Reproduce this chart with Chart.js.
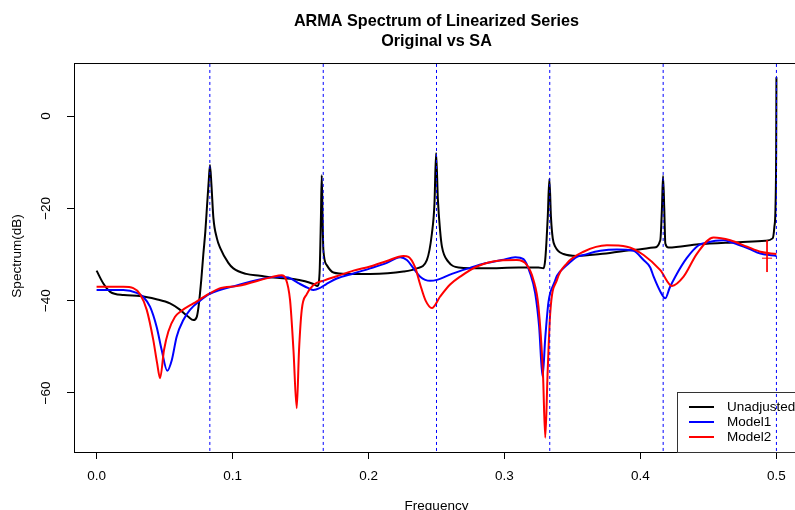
<!DOCTYPE html>
<html>
<head>
<meta charset="utf-8">
<script src="https://cdn.jsdelivr.net/npm/chart.js@4.4.1/dist/chart.umd.min.js"></script>
<style>
  html, body { margin: 0; padding: 0; background: #fff; overflow: hidden; }
  #wrap { width: 795px; height: 510px; overflow: hidden; position: relative; }
  #wrap canvas { position: absolute; left: 0; top: 0; }
</style>
</head>
<body>
<div id="wrap"><canvas id="spec" width="799" height="520"></canvas></div>
<script>
// Spectrum readings (frequency, dB)
const unadjFreq = [0, 0.005, 0.010, 0.020, 0.032, 0.044, 0.054, 0.061, 0.0675, 0.0712, 0.0737, 0.0750, 0.0770, 0.0785, 0.0800, 0.0812, 0.0825, 0.0834,
  0.0845, 0.0859, 0.0885, 0.0908, 0.0969, 0.1006, 0.1100, 0.1202, 0.1300, 0.1448, 0.1533, 0.1595, 0.1625, 0.1640, 0.1650, 0.1656, 0.1662, 0.1668,
  0.1693, 0.1742, 0.184, 0.2012, 0.2257, 0.2355, 0.2429, 0.2466, 0.2485, 0.2497, 0.2510, 0.2527, 0.254, 0.2588, 0.2662, 0.2858, 0.3103, 0.325,
  0.3287, 0.3300, 0.3318, 0.3330, 0.3342, 0.3355, 0.3373, 0.3434, 0.3533, 0.3704, 0.3949, 0.4097, 0.4146, 0.4158, 0.4166, 0.4175, 0.4183, 0.4207,
  0.4428, 0.4673, 0.4918, 0.4972, 0.4985, 0.4993, 0.4998, 0.5];
const unadjSpec = [-33.5, -36.3, -38.1, -38.8, -39.0, -39.7, -40.6, -41.9, -43.5, -44.2, -43.5, -41.3, -35.5, -30, -25, -19.6, -14, -10.6,
  -15, -22, -26.5, -28.5, -31.8, -33.0, -34.2, -34.6, -35.0, -35.3, -35.8, -36.4, -36.8, -34, -22, -12.8, -22, -29.0,
  -32.3, -33.9, -34.2, -34.2, -33.7, -33.0, -31.2, -25.5, -19, -8, -18, -25, -28.3, -31.6, -32.8, -33.0, -32.8, -32.8,
  -33.0, -31, -22, -13.6, -22, -26.5, -28.3, -29.9, -30.3, -29.9, -29.0, -28.5, -26.9, -20, -13.0, -20, -27.6, -28.5,
  -27.8, -27.4, -27.0, -26.5, -24, -20, -8, 8.4];

const model1Freq = [0, 0.0197, 0.0295, 0.0344, 0.0393, 0.0442, 0.0479, 0.0520, 0.0553, 0.0589, 0.0638, 0.0687, 0.0761, 0.0829, 0.1043, 0.1200,
  0.1320, 0.1410, 0.1484, 0.1558, 0.1595, 0.1640, 0.1690, 0.1767, 0.1889, 0.2012, 0.2135, 0.2233, 0.2282, 0.2331, 0.2380, 0.2453, 0.2503, 0.2613,
  0.2735, 0.2858, 0.2981, 0.3079, 0.3140, 0.3189, 0.3226, 0.3255, 0.3280, 0.3300, 0.3324, 0.3368, 0.3386, 0.3459, 0.3533, 0.3581, 0.3704, 0.3827,
  0.3949, 0.4023, 0.4072, 0.4097, 0.4146, 0.4183, 0.4215, 0.4256, 0.4340, 0.4428, 0.4489, 0.4551, 0.4612, 0.4673, 0.4759, 0.4795, 0.4882, 0.5];
const model1Spec = [-37.7, -37.7, -38.3, -39.2, -41.3, -45.7, -50.7, -55.2, -52.9, -47.8, -44.2, -42.0, -40.0, -38.6, -36.6, -35.4,
  -34.8, -35.0, -36.2, -37.3, -37.7, -37.3, -36.4, -35.2, -34.1, -33.0, -31.8, -30.6, -31.2, -33.0, -34.8, -35.7, -35.5, -34.2,
  -33.0, -31.9, -31.2, -30.6, -31.0, -34.1, -38.4, -45.7, -56.5, -48.0, -40.2, -36.0, -34.6, -32.3, -30.5, -30.1, -29.2, -28.9,
  -29.2, -31.2, -32.8, -34.8, -38, -39.5, -37.2, -34.8, -30.8, -28.0, -27.4, -27.0, -26.9, -27.4, -28.3, -28.7, -29.8, -30.3];

const model2Freq = [0, 0.0197, 0.0270, 0.0320, 0.0369, 0.0417, 0.0445, 0.0467, 0.0496, 0.0528, 0.0577, 0.0620, 0.0712, 0.0829, 0.0900, 0.1043,
  0.1288, 0.1362, 0.1391, 0.1423, 0.1448, 0.1472, 0.1489, 0.1509, 0.1546, 0.1595, 0.1676, 0.1767, 0.1889, 0.2012, 0.2135, 0.2257, 0.2294, 0.2343,
  0.2380, 0.2420, 0.2466, 0.2527, 0.2600, 0.2674, 0.2797, 0.2968, 0.3091, 0.3165, 0.3213, 0.3250, 0.3283, 0.3300, 0.3317, 0.3336, 0.3386, 0.3459,
  0.3581, 0.3753, 0.3900, 0.4023, 0.4146, 0.4232, 0.4317, 0.4416, 0.4538, 0.4661, 0.4784, 0.4882, 0.5];
const model2Spec = [-37.0, -37.0, -37.3, -38.6, -42.0, -48.5, -53.5, -56.8, -50.7, -46.7, -43.5, -42.3, -40.6, -38.5, -37.4, -36.8,
  -34.9, -34.5, -35.2, -39.9, -50.7, -63.3, -50.7, -42.0, -38.6, -36.6, -35.6, -34.7, -33.5, -32.6, -31.4, -30.3, -30.5, -32.8,
  -36.5, -40.0, -41.6, -39.1, -36.5, -34.8, -32.6, -31.3, -31.2, -32.3, -35.5, -41.3, -55.8, -69.7, -55.8, -42.8, -35.5, -31.9,
  -29.4, -28.0, -28.3, -30.1, -33.4, -36.8, -34.8, -29.8, -26.3, -26.9, -28.3, -29.4, -29.9];

// small red cross near the right edge
const markFreq = [0.4931, 0.4931, 0.4931, 0.4894, 0.4968];
const markSpec = [-26.9, -33.8, null, -30.8, -30.8];

// seasonal frequencies (dotted verticals)
const seasonalFreq = [0.0833, 0.1667, 0.25, 0.3333, 0.4167, 0.5];

const xTicks = [0, 0.1, 0.2, 0.3, 0.4, 0.5];
const xTickLabels = ['0.0', '0.1', '0.2', '0.3', '0.4', '0.5'];
const yTicks = [0, -20, -40, -60];
const yTickLabels = ['0', '\u221220', '\u221240', '\u221260'];

const seriesNames = ['Unadjusted', 'Model1', 'Model2'];
const seriesColors = ['#000000', '#0000ff', '#ff0000'];

const FONT = '"Liberation Sans", Arial, sans-serif';
const TXT = 13.5;

const toPts = (fs, vs) => fs.map((f, i) => ({ x: f, y: vs[i] }));

const vlinePts = [];
seasonalFreq.forEach(f => {
  vlinePts.push({ x: f, y: -200 }, { x: f, y: 200 }, { x: f, y: null });
});

// R-style extras: box, rotated y labels, axis titles, legend
const rStyle = {
  id: 'rStyle',
  afterDraw(chart) {
    const { ctx, chartArea: a, scales: { y } } = chart;
    ctx.save();
    ctx.strokeStyle = '#000';
    ctx.lineWidth = 1;
    ctx.strokeRect(a.left + 0.5, a.top + 0.5, a.right - a.left - 1, a.bottom - a.top);

    ctx.fillStyle = '#000';
    ctx.font = TXT + 'px ' + FONT;
    ctx.textAlign = 'center';
    ctx.textBaseline = 'middle';
    yTicks.forEach((v, i) => {
      ctx.save();
      ctx.translate(46, y.getPixelForValue(v));
      ctx.rotate(-Math.PI / 2);
      ctx.fillText(yTickLabels[i], 0, 0);
      ctx.restore();
    });

    ctx.save();
    ctx.translate(17, 256);
    ctx.rotate(-Math.PI / 2);
    ctx.fillText('Spectrum(dB)', 0, 0);
    ctx.restore();
    ctx.fillText('Frequency', (a.left + a.right) / 2, 506);

    // legend (bottom right)
    ctx.strokeStyle = '#333';
    ctx.strokeRect(677.5, 392.5, a.right - 677, a.bottom - 392);
    ctx.textAlign = 'left';
    seriesNames.forEach((name, i) => {
      const yy = 407 + i * 15;
      ctx.strokeStyle = seriesColors[i];
      ctx.lineWidth = 2;
      ctx.beginPath();
      ctx.moveTo(689, yy);
      ctx.lineTo(714, yy);
      ctx.stroke();
      ctx.fillText(name, 727, yy);
    });
    ctx.restore();
  }
};

const curve = (label, pts, color) => ({
  label, data: pts, borderColor: color, borderWidth: 2,
  pointRadius: 0, fill: false, cubicInterpolationMode: 'monotone'
});

new Chart(document.getElementById('spec'), {
  type: 'line',
  data: {
    datasets: [
      { label: 'seasonal', data: vlinePts, borderColor: '#0000ff', borderWidth: 1,
        borderDash: [3, 3], pointRadius: 0, spanGaps: false, tension: 0 },
      { label: 'mark', data: toPts(markFreq, markSpec), borderColor: '#ff0000', borderWidth: 1,
        pointRadius: 0, spanGaps: false, tension: 0 },
      curve(seriesNames[2], toPts(model2Freq, model2Spec), seriesColors[2]),
      curve(seriesNames[1], toPts(model1Freq, model1Spec), seriesColors[1]),
      curve(seriesNames[0], toPts(unadjFreq, unadjSpec), seriesColors[0])
    ]
  },
  options: {
    responsive: false,
    animation: false,
    layout: { padding: 0 },
    plugins: {
      legend: { display: false },
      tooltip: { enabled: false },
      title: {
        display: true,
        text: ['ARMA Spectrum of Linearized Series', 'Original vs SA'],
        fullSize: false,
        color: '#000',
        font: { family: FONT, size: 16.2, weight: 'bold', lineHeight: 1.235 },
        padding: { top: 12, bottom: 11 }
      }
    },
    scales: {
      x: {
        type: 'linear',
        min: -0.0166,
        max: 0.5166,
        afterBuildTicks: s => { s.ticks = xTicks.map(v => ({ value: v })); },
        afterFit: s => { s.height = 68; },
        grid: { drawOnChartArea: false, drawTicks: true, tickLength: 7, color: '#000' },
        border: { display: false },
        ticks: {
          color: '#000', padding: 9, maxRotation: 0, autoSkip: false,
          font: { family: FONT, size: TXT },
          callback: (v, i) => xTickLabels[i]
        }
      },
      y: {
        type: 'linear',
        min: -72.8,
        max: 11.5,
        afterBuildTicks: s => { s.ticks = yTicks.map(v => ({ value: v })); },
        afterFit: s => { s.width = 74; },
        grid: { drawOnChartArea: false, drawTicks: true, tickLength: 7, color: '#000' },
        border: { display: false },
        ticks: { display: false }
      }
    }
  },
  plugins: [rStyle]
});
</script>
</body>
</html>
